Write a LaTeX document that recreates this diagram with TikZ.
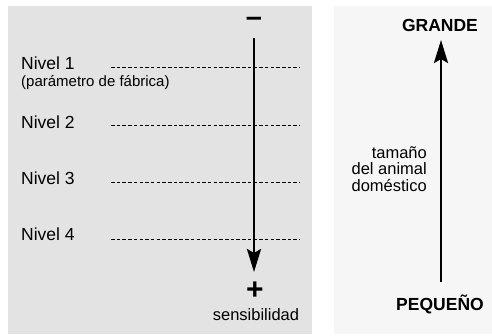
\documentclass[tikz,border=0pt]{standalone}
\usepackage{fontspec}
\setmainfont{Liberation Sans}
\usetikzlibrary{arrows.meta}
\definecolor{panelL}{HTML}{E3E3E3}
\definecolor{panelR}{HTML}{F6F6F6}
\tikzset{
  lbl/.style={inner sep=0pt, font=\fontsize{17.5}{19}\selectfont, text=black},
  small/.style={inner sep=0pt, font=\fontsize{15}{17}\selectfont, text=black},
  big/.style={inner sep=0pt, font=\fontsize{17.5}{19}\selectfont\bfseries, text=black},
  sym/.style={inner sep=0pt, font=\fontsize{30}{30}\selectfont\bfseries},
  dashline/.style={dash pattern=on 3.5pt off 2.2pt, line width=1pt},
  mainarrow/.style={line width=2.8pt, -{Stealth[length=23pt,width=14pt,inset=4pt]}}
}
\begin{document}
\begin{tikzpicture}[x=1pt,y=-1pt]
\useasboundingbox (0,0) rectangle (492,335);
\fill[white] (0,0) rectangle (492,335);
\fill[panelL] (8,6) rectangle (312,334);
\fill[panelR] (334,6) rectangle (492,334);

% left panel
\node[sym, font=\fontsize{29}{29}\selectfont\bfseries] (minus) at (254,22) {–};
\node[sym] (plus) at (255,291) {+};
\node[small, font=\fontsize{16.5}{18}\selectfont] (sens) at (256,315) {sensibilidad};
\coordinate (ltop) at (254,38);
\coordinate (lbot) at (254,272);

\node[lbl, anchor=west] (n1) at (21,63) {Nivel 1};
\node[small, anchor=west] (fab) at (21,83) {(parámetro de fábrica)};
\node[lbl, anchor=west] (n2) at (21,122) {Nivel 2};
\node[lbl, anchor=west] (n3) at (21,178) {Nivel 3};
\node[lbl, anchor=west] (n4) at (21,234) {Nivel 4};

\coordinate (d1a) at (111,67);  \coordinate (d1b) at (300,67);
\coordinate (d2a) at (111,125); \coordinate (d2b) at (300,125);
\coordinate (d3a) at (111,182); \coordinate (d3b) at (300,182);
\coordinate (d4a) at (111,239); \coordinate (d4b) at (300,239);
\draw[dashline] (d1a) -- (d1b);
\draw[dashline] (d2a) -- (d2b);
\draw[dashline] (d3a) -- (d3b);
\draw[dashline] (d4a) -- (d4b);

\draw[mainarrow] (ltop) -- (lbot);

% right panel
\node[big] (grande) at (440,25) {GRANDE};
\node[big] (peq) at (440,304) {PEQUEÑO};
\coordinate (rbot) at (441,282);
\coordinate (rtop) at (441,40);
\draw[mainarrow] (rbot) -- (rtop);
\node[lbl, font=\fontsize{16.5}{16.8}\selectfont, align=right, anchor=east] (tam) at (427,169) {tamaño\\del animal\\doméstico};
\end{tikzpicture}
\end{document}
